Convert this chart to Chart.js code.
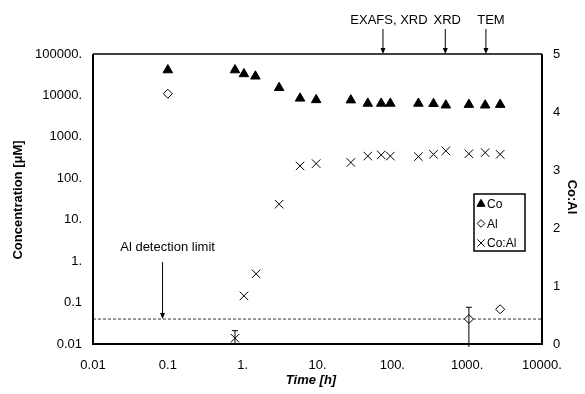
<!DOCTYPE html>
<html>
<head>
<meta charset="utf-8">
<script src="https://cdn.jsdelivr.net/npm/chart.js@4/dist/chart.umd.min.js"></script>
<style>
  html, body { margin: 0; padding: 0; background: #fff; }
  #wrap { width: 585px; height: 394px; position: relative; }
</style>
</head>
<body>
<div id="wrap"><canvas id="myChart"></canvas></div>
<script>
// values
const coTime = [0.1, 0.79, 1.04, 1.48, 3.07, 5.85, 9.6, 27.9, 47, 71, 94, 223, 355, 519, 1054, 1740, 2760];
const coConc = [41000, 41000, 33000, 29000, 15300, 8500, 7800, 7700, 6400, 6400, 6400, 6400, 6300, 5800, 6000, 5800, 6000];

const alTime = [0.1, 1054, 2760];
const alConc = [11000, 0.04, 0.069];
const alErrLow = [null, 0.0085, null];
const alErrHigh = [null, 0.077, null];

const ratioTime = [0.79, 1.04, 1.51, 3.07, 5.85, 9.6, 27.9, 47, 71, 94, 223, 355, 519, 1054, 1740, 2760];
const ratioVal = [0.1, 0.83, 1.21, 2.41, 3.07, 3.11, 3.13, 3.24, 3.26, 3.24, 3.23, 3.27, 3.33, 3.28, 3.30, 3.27];
const ratioErrLow = [0.0, null, null, null, null, null, null, null, null, null, null, null, null, null, null, null];
const ratioErrHigh = [0.23, null, null, null, null, null, null, null, null, null, null, null, null, null, null, null];

const detectionLimit = 0.04;
const detectionLabel = "Al detection limit";
const detectionArrowTime = 0.085;

const markTimes = [75, 510, 1780];
const markLabels = ["EXAFS, XRD", "XRD", "TEM"];

const xTicks = [0.01, 0.1, 1, 10, 100, 1000, 10000];
const xTickLabels = ["0.01", "0.1", "1.", "10.", "100.", "1000.", "10000."];
const yTicks = [0.01, 0.1, 1, 10, 100, 1000, 10000, 100000];
const yTickLabels = ["0.01", "0.1", "1.", "10.", "100.", "1000.", "10000.", "100000."];

const FONT = "'Liberation Sans', Arial, sans-serif";

function pts(xs, ys) {
  return xs.map((x, i) => ({ x: x, y: ys[i] }));
}

// error bars, arrows, legend, frame and titles
const extras = {
  id: "extras",
  afterDatasetsDraw(chart) {
    const ctx = chart.ctx;
    const xs = chart.scales.x, ys = chart.scales.y, y2 = chart.scales.y2;
    const a = chart.chartArea;
    ctx.save();
    ctx.strokeStyle = "#000";
    ctx.fillStyle = "#000";

    // error bars
    ctx.lineWidth = 1;
    function errBar(x, lo, hi, sc) {
      const px = xs.getPixelForValue(x);
      const pLo = sc.getPixelForValue(lo);
      const pHi = sc.getPixelForValue(hi);
      ctx.beginPath();
      ctx.moveTo(px, pLo); ctx.lineTo(px, pHi);
      ctx.moveTo(px - 3, pHi); ctx.lineTo(px + 3, pHi);
      if (pLo <= a.bottom) { ctx.moveTo(px - 3, pLo); ctx.lineTo(px + 3, pLo); }
      ctx.stroke();
    }
    alTime.forEach((t, i) => { if (alErrHigh[i] != null) errBar(t, alErrLow[i], alErrHigh[i], ys); });
    ratioTime.forEach((t, i) => { if (ratioErrHigh[i] != null) errBar(t, ratioErrLow[i], ratioErrHigh[i], y2); });

    function arrowDown(px, yFrom, yTo) {
      ctx.beginPath();
      ctx.moveTo(px, yFrom); ctx.lineTo(px, yTo - 4);
      ctx.stroke();
      ctx.beginPath();
      ctx.moveTo(px - 2.5, yTo - 6); ctx.lineTo(px + 2.5, yTo - 6); ctx.lineTo(px, yTo);
      ctx.closePath(); ctx.fill();
    }

    // top annotations
    ctx.font = "13px " + FONT;
    ctx.textAlign = "center";
    ctx.textBaseline = "middle";
    const textShift = [6, 2, 5];
    markTimes.forEach((t, i) => {
      const px = xs.getPixelForValue(t);
      arrowDown(px, a.top - 25, a.top);
      ctx.fillText(markLabels[i], px + textShift[i], a.top - 34);
    });

    // detection limit arrow
    const dpx = xs.getPixelForValue(detectionArrowTime);
    const dpy = ys.getPixelForValue(detectionLimit);
    arrowDown(dpx, dpy - 57, dpy);
    ctx.fillText(detectionLabel, dpx + 5, dpy - 72);

    // frame
    ctx.lineWidth = 2;
    ctx.beginPath();
    ctx.moveTo(a.left, a.top); ctx.lineTo(a.left, a.bottom);
    ctx.lineTo(a.right, a.bottom); ctx.lineTo(a.right, a.top);
    ctx.stroke();
    ctx.lineWidth = 1.5;
    ctx.beginPath();
    ctx.moveTo(a.left, a.top); ctx.lineTo(a.right, a.top);
    ctx.stroke();

    // legend
    const lx = 474, ly = 194;
    ctx.lineWidth = 1.5;
    ctx.strokeRect(lx, ly, 51, 57);
    ctx.font = "12px " + FONT;
    ctx.textAlign = "left";
    const ds = chart.data.datasets.slice(0, 3);
    ds.forEach((d, i) => {
      const cy = ly + 10 + i * 19.5;
      ctx.lineWidth = 1;
      ctx.fillStyle = d.backgroundColor;
      ctx.strokeStyle = "#000";
      Chart.helpers.drawPoint(ctx, { pointStyle: d.pointStyle, radius: d.pointRadius * 0.85, rotation: 0, borderWidth: 1 }, lx + 7, cy);
      ctx.fillStyle = "#000";
      ctx.fillText(d.label, lx + 13, cy + 1);
    });

    // axis titles
    ctx.font = "bold 13px " + FONT;
    ctx.textAlign = "center";
    ctx.save();
    ctx.translate(18, 200);
    ctx.rotate(-Math.PI / 2);
    ctx.fillText("Concentration [\u03bcM]", 0, 0);
    ctx.restore();
    ctx.save();
    ctx.translate(572, 197);
    ctx.rotate(Math.PI / 2);
    ctx.fillText("Co:Al", 0, 0);
    ctx.restore();
    ctx.font = "italic bold 13px " + FONT;
    ctx.fillText("Time [h]", 311, 380);

    ctx.restore();
  }
};

const ctx = document.getElementById("myChart").getContext("2d");
const chart = new Chart(ctx, {
  type: "scatter",
  data: {
    datasets: [
      {
        label: "Co",
        data: pts(coTime, coConc),
        yAxisID: "y",
        pointStyle: "triangle",
        pointRadius: 5.5,
        backgroundColor: "#000",
        borderColor: "#000",
        borderWidth: 1,
      },
      {
        label: "Al",
        data: pts(alTime, alConc),
        yAxisID: "y",
        pointStyle: "rectRot",
        pointRadius: 4.5,
        backgroundColor: "#fff",
        borderColor: "#000",
        borderWidth: 1,
      },
      {
        label: "Co:Al",
        data: pts(ratioTime, ratioVal),
        yAxisID: "y2",
        pointStyle: "crossRot",
        pointRadius: 6,
        backgroundColor: "#000",
        borderColor: "#000",
        borderWidth: 1,
      },
      {
        label: "limit",
        type: "line",
        data: [{ x: xTicks[0], y: detectionLimit }, { x: xTicks[xTicks.length - 1], y: detectionLimit }],
        yAxisID: "y",
        borderColor: "#333",
        borderWidth: 1,
        borderDash: [3, 2],
        pointRadius: 0,
        fill: false,
      },
    ],
  },
  options: {
    responsive: true,
    maintainAspectRatio: false,
    animation: false,
    devicePixelRatio: 1,
    layout: { padding: { top: 54, left: 0, right: 0, bottom: 0 } },
    plugins: {
      legend: { display: false },
      tooltip: { enabled: false },
    },
    scales: {
      x: {
        type: "logarithmic",
        min: 0.01,
        max: 10000,
        afterBuildTicks: (s) => { s.ticks = xTicks.map((v) => ({ value: v })); },
        afterFit: (s) => { s.height = 50; },
        ticks: {
          autoSkip: false,
          maxRotation: 0,
          padding: 14,
          color: "#000",
          font: { family: FONT, size: 13 },
          callback: (v, i) => xTickLabels[i],
        },
        grid: { display: false, drawTicks: false },
        border: { display: false },
      },
      y: {
        type: "logarithmic",
        position: "left",
        min: 0.01,
        max: 100000,
        afterBuildTicks: (s) => { s.ticks = yTicks.map((v) => ({ value: v })); },
        afterFit: (s) => { s.width = 93; },
        ticks: {
          autoSkip: false,
          padding: 11,
          color: "#000",
          font: { family: FONT, size: 13 },
          callback: (v, i) => yTickLabels[i],
        },
        grid: { display: false, drawTicks: false },
        border: { display: false },
      },
      y2: {
        type: "linear",
        position: "right",
        min: 0,
        max: 5,
        afterFit: (s) => { s.width = 43; },
        ticks: {
          stepSize: 1,
          padding: 11,
          color: "#000",
          font: { family: FONT, size: 13 },
        },
        grid: { display: false, drawTicks: false },
        border: { display: false },
      },
    },
  },
  plugins: [extras],
});
</script>
</body>
</html>
